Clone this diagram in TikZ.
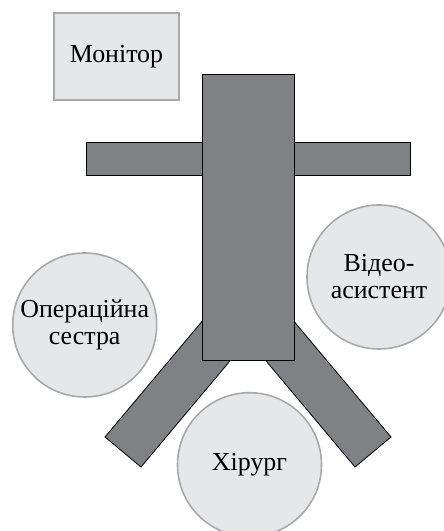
\documentclass[tikz,border=0pt]{standalone}
\usepackage{fontspec}
\setmainfont{Liberation Serif}
\definecolor{darkfill}{HTML}{808184}
\definecolor{lightfill}{HTML}{E6E7E8}
\definecolor{lightline}{HTML}{A7A9AC}
\begin{document}
\begin{tikzpicture}[x=1bp,y=1bp,
  part/.style={draw=black, fill=darkfill, line width=0.8bp},
  person/.style={circle, draw=lightline, fill=lightfill, line width=1.6bp,
    minimum size=144bp, inner sep=0pt, align=center,
    font=\fontsize{26}{27}\selectfont},
  monitorbox/.style={rectangle, draw=lightline, fill=lightfill, line width=1.6bp,
    minimum width=125bp, minimum height=87bp, inner sep=0pt,
    font=\fontsize{26}{27}\selectfont}]
\useasboundingbox (0,0) rectangle (444,531);
\clip (0,0) rectangle (444,531);
% arms
\draw[part] (86,356) rectangle (410,389);
% legs
\draw[part] (105,94) -- (141,64) -- (256.7,201.9) -- (220.7,231.9) -- cycle;
\draw[part] (391,94) -- (355,64) -- (239.3,201.9) -- (275.3,231.9) -- cycle;
% body
\draw[part] (202,171) rectangle (294,457);
% monitor
\node[monitorbox] (monitor) at (116.5,474.5) {Монітор};
% people
\node[person] (nurse) at (84.7,206) {Операційна\\сестра};
\node[person] (video) at (379,254) {Відео-\\асистент};
\node[person] (surgeon) at (249.5,66.3) {Хірург};
\end{tikzpicture}
\end{document}
